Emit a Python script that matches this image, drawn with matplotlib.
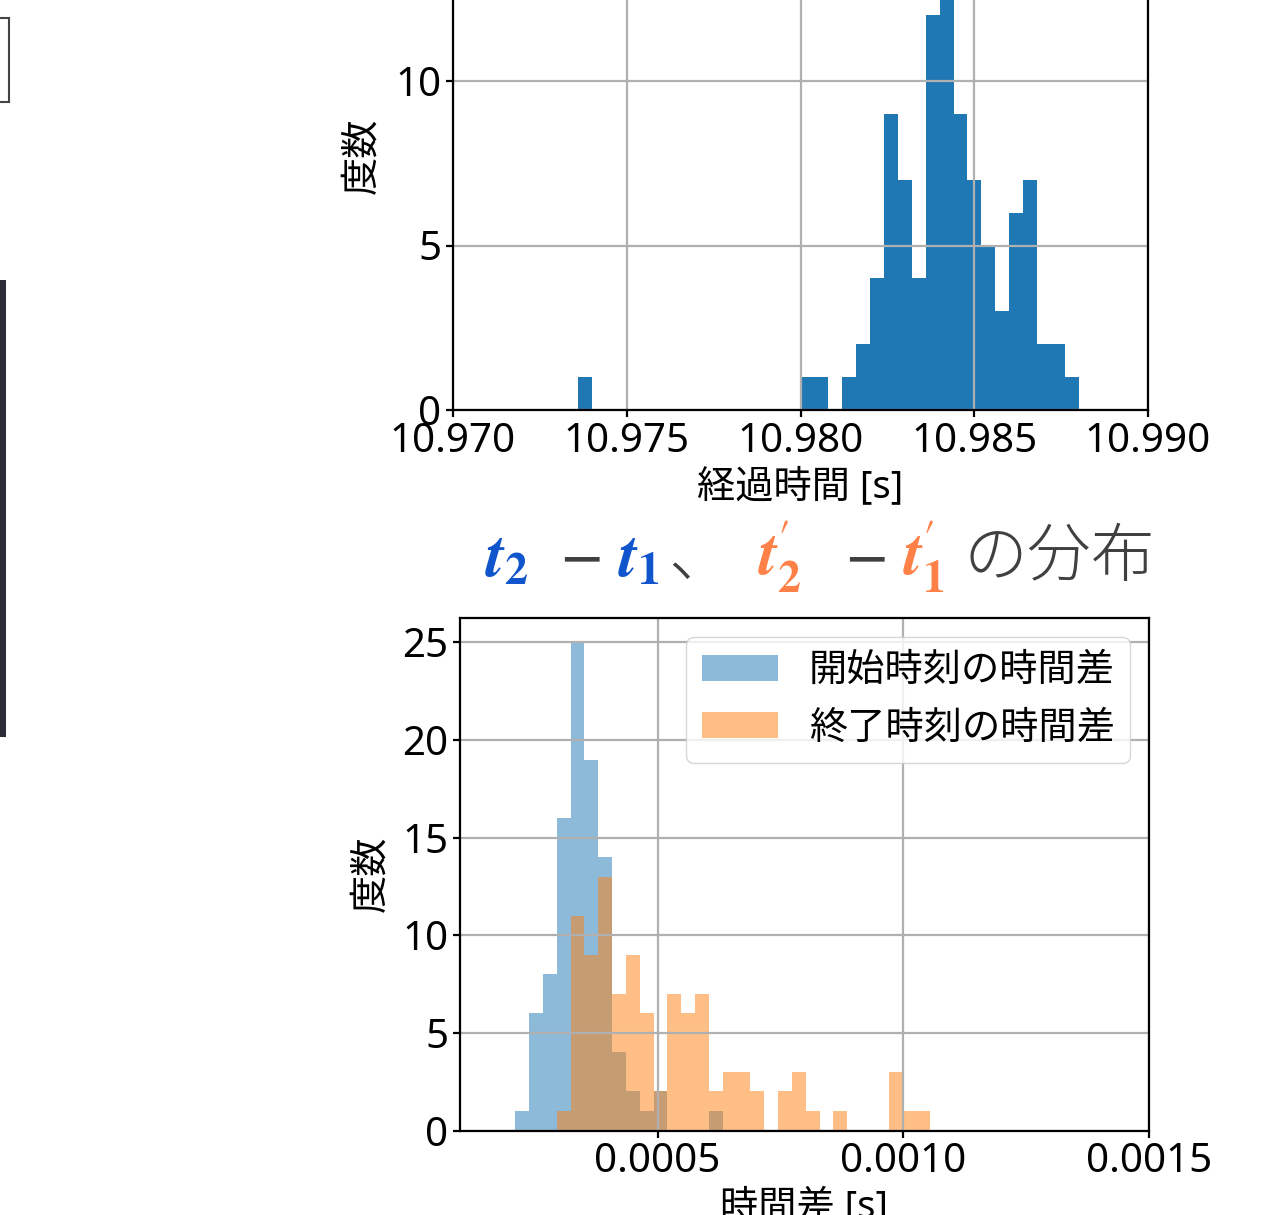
import numpy as np
import matplotlib
matplotlib.use("Agg")
import matplotlib.pyplot as plt
from matplotlib.patches import Rectangle

plt.rcParams["font.family"] = ["Noto Sans", "Noto Sans CJK JP", "DejaVu Sans"]
plt.rcParams["mathtext.fontset"] = "stix"
plt.rcParams["axes.unicode_minus"] = False

# --- data ---
# top: elapsed time histogram, 36 bins
elapsed_edges = np.linspace(10.97359, 10.98801, 37)
elapsed_counts = [1, 0, 0, 0, 0, 0, 0, 0, 0, 0, 0, 0, 0, 0, 0, 0,
                  1, 1, 0, 1, 2, 4, 9, 7, 4, 12, 15, 9, 7, 5, 3, 6, 7, 2, 2, 1]
elapsed_ticks = [10.970, 10.975, 10.980, 10.985, 10.990]

# bottom: time differences, 30 shared bins
diff_edges = np.linspace(0.00021028, 0.00105478, 31)
start_counts = [1, 6, 8, 16, 25, 19, 14, 4, 2, 1, 2, 0, 0, 0, 1,
                0, 0, 0, 0, 0, 0, 0, 0, 0, 0, 0, 0, 0, 0, 0]
end_counts = [0, 0, 0, 1, 11, 9, 13, 7, 9, 6, 2, 7, 6, 7, 2,
              3, 3, 2, 0, 2, 3, 1, 0, 1, 0, 0, 0, 3, 1, 1]
diff_ticks = [0.0005, 0.0010, 0.0015]
series_labels = ["開始時刻の時間差", "終了時刻の時間差"]

W, H = 1279, 1215
TICK = 29
LABEL = 27.5
LW = 1.6

fig = plt.figure(figsize=(W / 100, H / 100), dpi=100)


def px_axes(left, right, top, bottom):
    return fig.add_axes([left / W, (H - bottom) / H, (right - left) / W, (bottom - top) / H])


def style(ax):
    ax.grid(True, color="#b0b0b0", linewidth=LW)
    for s in ax.spines.values():
        s.set_linewidth(LW)
    ax.tick_params(labelsize=TICK, length=5, width=LW)


# top axes: partially cut off at the top edge of the picture
top_ymax = 15.75
unit = 32.9
ax1 = px_axes(453, 1148, 410 - top_ymax * unit, 410)
ax1.hist(elapsed_edges[:-1], bins=elapsed_edges, weights=elapsed_counts, color="C0")
ax1.set_xlim(10.970, 10.990)
ax1.set_ylim(0, top_ymax)
ax1.set_xticks(elapsed_ticks)
ax1.set_xticklabels([f"{v:.3f}" for v in elapsed_ticks])
ax1.set_yticks([0, 5, 10, 15])
style(ax1)
ax1.set_xlabel("経過時間 [s]", fontsize=LABEL)
ax1.set_ylabel("度数", fontsize=LABEL)
ax1.yaxis.set_label_coords(-0.1036, 0.49)

# bottom axes
ax2 = px_axes(460, 1149, 618, 1130.5)
ax2.hist(diff_edges[:-1], bins=diff_edges, weights=start_counts, color="C0", alpha=0.5,
         label=series_labels[0])
ax2.hist(diff_edges[:-1], bins=diff_edges, weights=end_counts, color="C1", alpha=0.5,
         label=series_labels[1])
ax2.set_xlim(0.0000977, 0.0015)
ax2.set_xticks(diff_ticks)
ax2.set_xticklabels([f"{v:.4f}" for v in diff_ticks])
ax2.set_yticks([0, 5, 10, 15, 20, 25])
style(ax2)
ax2.set_xlabel("時間差 [s]", fontsize=LABEL)
ax2.set_ylabel("度数", fontsize=LABEL)
ax2.yaxis.set_label_coords(-0.1016, 0.5)
ax2.legend(loc="upper right", fontsize=LABEL)

# multi-coloured title, pieces placed on one baseline (left x in pixels)
blue, orange, gray = "#1155cc", "#ff8147", "#404040"
title_parts = [
    (485, r"$\mathbfit{t}_{\mathbf{2}}$", blue, 47, None, "normal"),
    (558, "−", gray, 40, "DejaVu Sans", "normal"),
    (618, r"$\mathbfit{t}_{\mathbf{1}}$", blue, 47, None, "normal"),
    (668, "、", gray, 46, "Noto Sans CJK JP", "light"),
    (758, r"$\mathbfit{t}^{\prime}_{\mathbf{2}}$", orange, 47, None, "normal"),
    (843, "−", gray, 40, "DejaVu Sans", "normal"),
    (903, r"$\mathbfit{t}^{\prime}_{\mathbf{1}}$", orange, 47, None, "normal"),
    (963, "の分布", gray, 46, "Noto Sans CJK JP", "light"),
]
y = (H - 576) / H
for px, s, c, size, fam, wt in title_parts:
    kw = {"family": fam} if fam else {}
    fig.text(px / W, y, s, color=c, fontsize=size, fontweight=wt, ha="left", va="baseline", **kw)

# screenshot remnants at the left edge
fig.add_artist(Rectangle((-2 / W, (H - 102) / H), 11 / W, 84 / H, transform=fig.transFigure,
                         fill=False, ec="#444444", lw=1.5))
fig.add_artist(Rectangle((0, (H - 737) / H), 6 / W, 457 / H, transform=fig.transFigure,
                         fc="#2a2d35", ec="none"))

fig.savefig("out.png", dpi=100)
